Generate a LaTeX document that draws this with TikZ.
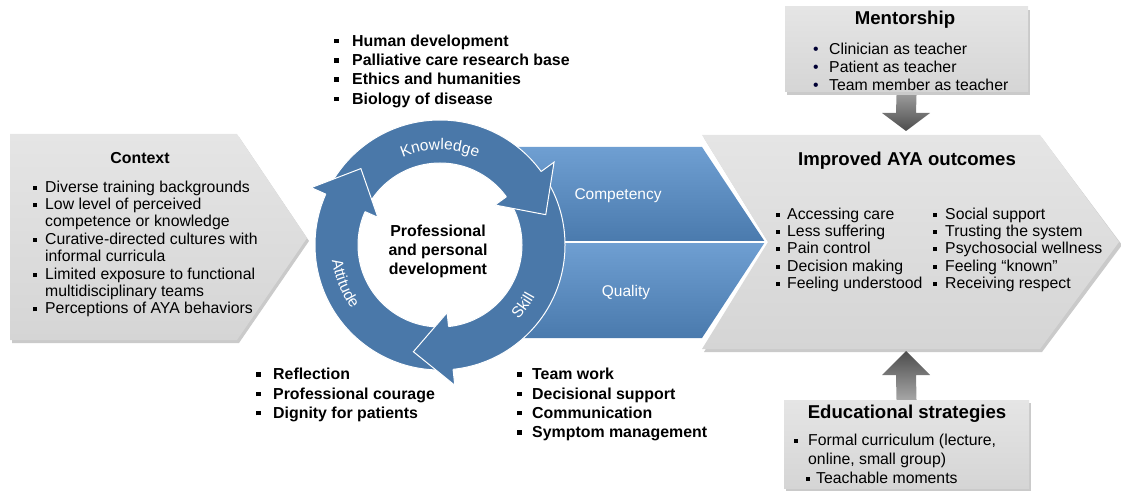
\documentclass[tikz,border=0pt]{standalone}
\usepackage{fontspec}
\setmainfont{Liberation Sans}
\usepackage{tikz}
\usetikzlibrary{positioning,calc,decorations.text}

\definecolor{ringblue}{HTML}{4A78A9}
\definecolor{chevtop}{HTML}{6F9FD2}
\definecolor{chevbot}{HTML}{4A7AAD}
\definecolor{paletop}{HTML}{E5E5E5}
\definecolor{palebot}{HTML}{D5D5D5}

\newcommand{\sqbul}[1]{\makebox[#1][l]{\rule[2.5pt]{4pt}{4pt}}}
\newcommand{\bdbul}[1]{\makebox[#1][l]{\rule[3pt]{4.5pt}{4.5pt}}}
\newcommand{\rdbul}{\makebox[16pt][l]{\textcolor{black!80!blue}{\textbullet}}}

\tikzset{
  listtxt/.style={anchor=north west, inner sep=0pt, align=left, font=\fontsize{15.8}{17.4}\selectfont},
  boldlist/.style={anchor=north west, inner sep=0pt, align=left, font=\bfseries\fontsize{15.9}{19.3}\selectfont},
  heading/.style={inner sep=0pt, font=\bfseries\fontsize{18.6}{20}\selectfont},
  bluelabel/.style={inner sep=0pt, text=white, font=\fontsize{15.5}{17}\selectfont},
  grbox/.style={shade, top color=paletop, bottom color=palebot, inner sep=0pt,
    preaction={fill=black!35, opacity=0.6, transform canvas={shift={(2pt,-3pt)}}}},
  headfill/.style={fill=ringblue, draw=white, line width=1pt, line join=miter},
  arclabel/.style={decorate, decoration={text along path, text align=center}},
}

\begin{document}
\begin{tikzpicture}[x=1pt,y=-1pt]
  \path[use as bounding box] (0,0) rectangle (1121,494);
  \coordinate (c) at (440,245);

  % context chevron
  \fill[black!35, opacity=0.6] (12,137) -- (239,137) -- (309,241) -- (239,343) -- (12,343) -- cycle;
  \shade[top color=paletop, bottom color=palebot] (10,134) -- (237,134) -- (307,238) -- (237,340) -- (10,340) -- cycle;
  \node[inner sep=0pt, font=\bfseries\fontsize{15.9}{17}\selectfont] (ctxt) at (140,158) {Context};
  \node[listtxt] (ctxlist) at (33,180.5) {\sqbul{12pt}Diverse training backgrounds\\
    \sqbul{12pt}Low level of perceived\\ \hspace*{12pt}competence or knowledge\\
    \sqbul{12pt}Curative-directed cultures with\\ \hspace*{12pt}informal curricula\\
    \sqbul{12pt}Limited exposure to functional\\ \hspace*{12pt}multidisciplinary teams\\
    \sqbul{12pt}Perceptions of AYA behaviors};

  % blue chevrons
  \shade[top color=chevtop, bottom color=chevbot] (470,147) -- (702,147) -- (765,242) -- (470,242) -- cycle;
  \shade[top color=chevtop, bottom color=chevbot] (470,242) -- (765,242) -- (702,338) -- (470,338) -- cycle;
  \draw[white, line width=1.2pt] (470,242) -- (765,242);
  \node[bluelabel] (comp) at (618,196) {Competency};
  \node[bluelabel] (qual) at (626,292) {Quality};

  % outcomes chevron
  \fill[black!35, opacity=0.6] (704,138) -- (1042,138) -- (1122,245) -- (1042,352) -- (704,352) -- (770,245) -- cycle;
  \shade[top color=paletop, bottom color=palebot] (702,135) -- (1040,135) -- (1119,242) -- (1040,349) -- (702,349) -- (768,242) -- cycle;
  \coordinate (outtop) at (906,131);
  \coordinate (outbot) at (906,351);
  \node[heading] (outc) at (907,161) {Improved AYA outcomes};
  \node[listtxt, font=\fontsize{15.8}{17.3}\selectfont] (outl) at (776,207.5) {\sqbul{11pt}Accessing care\\
    \sqbul{11pt}Less suffering\\ \sqbul{11pt}Pain control\\
    \sqbul{11pt}Decision making\\ \sqbul{11pt}Feeling understood};
  \node[listtxt, font=\fontsize{15.8}{17.3}\selectfont] (outr) at (933,207.5) {\sqbul{12pt}Social support\\
    \sqbul{12pt}Trusting the system\\ \sqbul{12pt}Psychosocial wellness\\
    \sqbul{12pt}Feeling “known”\\ \sqbul{12pt}Receiving respect};

  % ring
  \fill[white] (c) circle[radius=82pt];
  \fill[ringblue, even odd rule] (c) circle[radius=125pt] (c) circle[radius=82pt];
  \draw[white, line width=1pt] (c) circle[radius=125pt] (c) circle[radius=82pt];
  \filldraw[headfill] ($(c)+(36:125pt)$) -- ($(c)+(36:141pt)$) -- ($(c)+(16:110pt)$) -- ($(c)+(36:68pt)$) -- ($(c)+(36:82pt)$); % knowledge
  \filldraw[headfill] ($(c)+(-84:125pt)$) -- ($(c)+(-84:141pt)$) -- ($(c)+(-104:110pt)$) -- ($(c)+(-84:68pt)$) -- ($(c)+(-84:82pt)$); % skill
  \filldraw[headfill] ($(c)+(156:125pt)$) -- ($(c)+(156:141pt)$) -- ($(c)+(136:110pt)$) -- ($(c)+(156:68pt)$) -- ($(c)+(156:82pt)$); % attitude
  \path[arclabel, decoration={text={|\color{white}\fontsize{15.5}{16}\selectfont|Knowledge}}]
    ($(c)+(128:95pt)$) arc[start angle=128, end angle=52, radius=95pt];
  \path[arclabel, decoration={text={|\color{white}\fontsize{15.5}{16}\selectfont|Attitude}}]
    ($(c)+(168:109pt)$) arc[start angle=168, end angle=236, radius=109pt];
  \path[arclabel, decoration={text={|\color{white}\fontsize{15.5}{16}\selectfont|Skill}}]
    ($(c)+(-56:108pt)$) arc[start angle=-56, end angle=-16, radius=108pt];
  \node[inner sep=0pt, align=center, font=\bfseries\fontsize{15.9}{19}\selectfont] (pcd) at (438,251)
    {Professional\\ and personal\\ development};

  % bold lists round the ring
  \node[boldlist] (know) at (334,34.5) {\bdbul{18pt}Human development\\
    \bdbul{18pt}Palliative care research base\\ \bdbul{18pt}Ethics and humanities\\
    \bdbul{18pt}Biology of disease};
  \node[boldlist] (atti) at (256,368) {\bdbul{17pt}Reflection\\
    \bdbul{17pt}Professional courage\\ \bdbul{17pt}Dignity for patients};
  \node[boldlist] (skil) at (517,368) {\bdbul{15pt}Team work\\
    \bdbul{15pt}Decisional support\\ \bdbul{15pt}Communication\\
    \bdbul{15pt}Symptom management};

  % mentorship
  \node[grbox, minimum width=243pt, minimum height=85pt] (ment) at (906.5,49.5) {};
  \node[heading] (menttl) at (905,20) {Mentorship};
  \node[listtxt, font=\fontsize{15.8}{18}\selectfont] (mentlist) at (813,43) {\rdbul Clinician as teacher\\
    \rdbul Patient as teacher\\ \rdbul Team member as teacher};
  \shade[top color=black!40, bottom color=black!70] ($(ment.south)+(-10,3)$) -- ($(ment.south)+(10,3)$)
    -- ($(outtop)+(10,-18)$) -- ($(outtop)+(24,-18)$) -- (outtop) -- ($(outtop)+(-24,-18)$)
    -- ($(outtop)+(-10,-18)$) -- cycle;

  % educational strategies
  \node[grbox, minimum width=245pt, minimum height=88pt] (edu) at (906.5,444) {};
  \node[heading] (edutl) at (907,414) {Educational strategies};
  \node[listtxt, font=\fontsize{15.8}{19}\selectfont] (edulist) at (794,433.5) {\sqbul{14pt}Formal curriculum (lecture,\\
    \hspace*{14pt}online, small group)\\ \hspace*{12pt}\sqbul{10pt}Teachable moments};
  \shade[top color=black!70, bottom color=black!35] ($(edu.north)+(-10,0)$) -- ($(edu.north)+(10,0)$)
    -- ($(outbot)+(10,24)$) -- ($(outbot)+(24,24)$) -- (outbot) -- ($(outbot)+(-24,24)$)
    -- ($(outbot)+(-10,24)$) -- cycle;
\end{tikzpicture}
\end{document}
